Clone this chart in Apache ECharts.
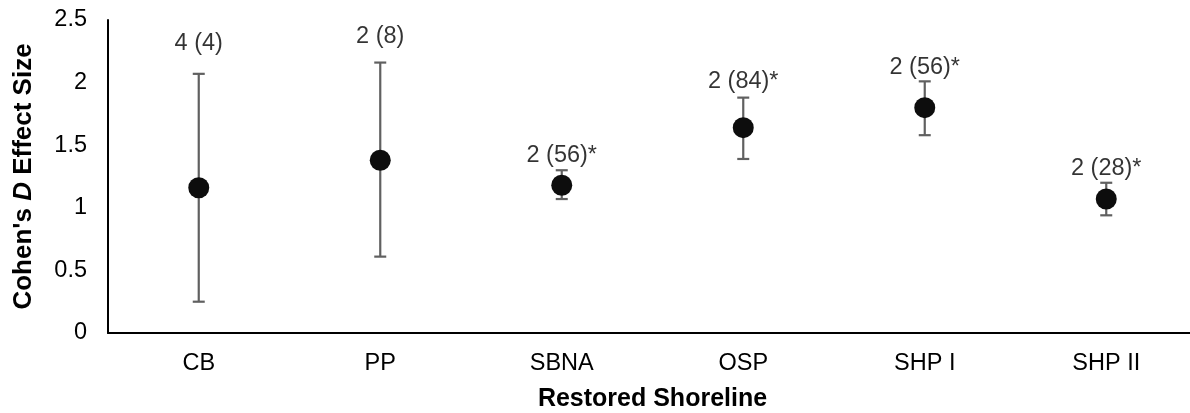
<!DOCTYPE html>
<html><head><meta charset="utf-8">
<script src="https://cdn.jsdelivr.net/npm/echarts@6/dist/echarts.min.js"></script>
<style>html,body{margin:0;padding:0;background:#fff}#c{width:1190px;height:413px}</style>
</head><body><div id="c"></div>
<script>
const categories = ['CB', 'PP', 'SBNA', 'OSP', 'SHP I', 'SHP II'];
const meanValues = [1.16, 1.38, 1.18, 1.64, 1.80, 1.07];
const errHigh = [2.07, 2.16, 1.30, 1.88, 2.01, 1.20];
const errLow = [0.25, 0.61, 1.07, 1.39, 1.58, 0.94];
const pointLabels = ['4 (4)', '2 (8)', '2 (56)*', '2 (84)*', '2 (56)*', '2 (28)*'];
const labelHeights = [2.31, 2.37, 1.42, 2.01, 2.12, 1.31];
const yTicks = [0, 0.5, 1, 1.5, 2, 2.5];

const chart = echarts.init(document.getElementById('c'));
const font = 'Liberation Sans, Arial, sans-serif';
chart.setOption({
  animation: false,
  grid: { left: 108, width: 1089, top: 20, height: 313, containLabel: false, outerBoundsMode: 'none' },
  xAxis: {
    type: 'category', data: categories,
    axisLine: { lineStyle: { color: '#000', width: 2 } },
    axisTick: { show: false },
    axisLabel: { color: '#000', fontSize: 23.5, fontFamily: font, margin: 19 },
    name: 'Restored Shoreline', nameLocation: 'middle', nameGap: 54,
    nameTextStyle: { color: '#000', fontSize: 25, fontWeight: 'bold', fontFamily: font }
  },
  yAxis: {
    type: 'value', min: 0, max: 2.5, interval: 0.5,
    axisLine: { show: true, lineStyle: { color: '#000', width: 2 } },
    axisTick: { show: false },
    splitLine: { show: false },
    axisLabel: { color: '#000', fontSize: 23.5, fontFamily: font, margin: 21,
      formatter: v => yTicks.includes(v) ? String(v) : '' },
    name: '{b|Cohen\'s }{i|D}{b| Effect Size}', nameLocation: 'middle', nameGap: 71,
    nameTextStyle: { rich: {
      b: { fontSize: 26, fontWeight: 'bold', color: '#000', fontFamily: font },
      i: { fontSize: 26, fontWeight: 'bold', fontStyle: 'italic', color: '#000', fontFamily: font }
    } }
  },
  series: [
    {
      type: 'custom',
      data: categories.map((c, i) => [i, errLow[i], errHigh[i]]),
      renderItem: (params, api) => {
        const x = api.value(0);
        const lo = api.coord([x, api.value(1)]);
        const hi = api.coord([x, api.value(2)]);
        const hw = 6;
        const st = { stroke: '#606060', lineWidth: 2.2 };
        return { type: 'group', children: [
          { type: 'line', shape: { x1: lo[0], y1: lo[1], x2: hi[0], y2: hi[1] }, style: st },
          { type: 'line', shape: { x1: lo[0] - hw, y1: lo[1], x2: lo[0] + hw, y2: lo[1] }, style: st },
          { type: 'line', shape: { x1: hi[0] - hw, y1: hi[1], x2: hi[0] + hw, y2: hi[1] }, style: st }
        ] };
      },
      z: 2
    },
    {
      type: 'scatter', data: meanValues, symbolSize: 21,
      itemStyle: { color: '#0d0d0d', opacity: 1 }, z: 3
    },
    {
      type: 'scatter', data: labelHeights, symbolSize: 0,
      label: { show: true, position: 'inside', color: '#000', fontSize: 23.5, fontFamily: font,
        formatter: p => pointLabels[p.dataIndex] },
      z: 4
    }
  ]
});
</script></body></html>
